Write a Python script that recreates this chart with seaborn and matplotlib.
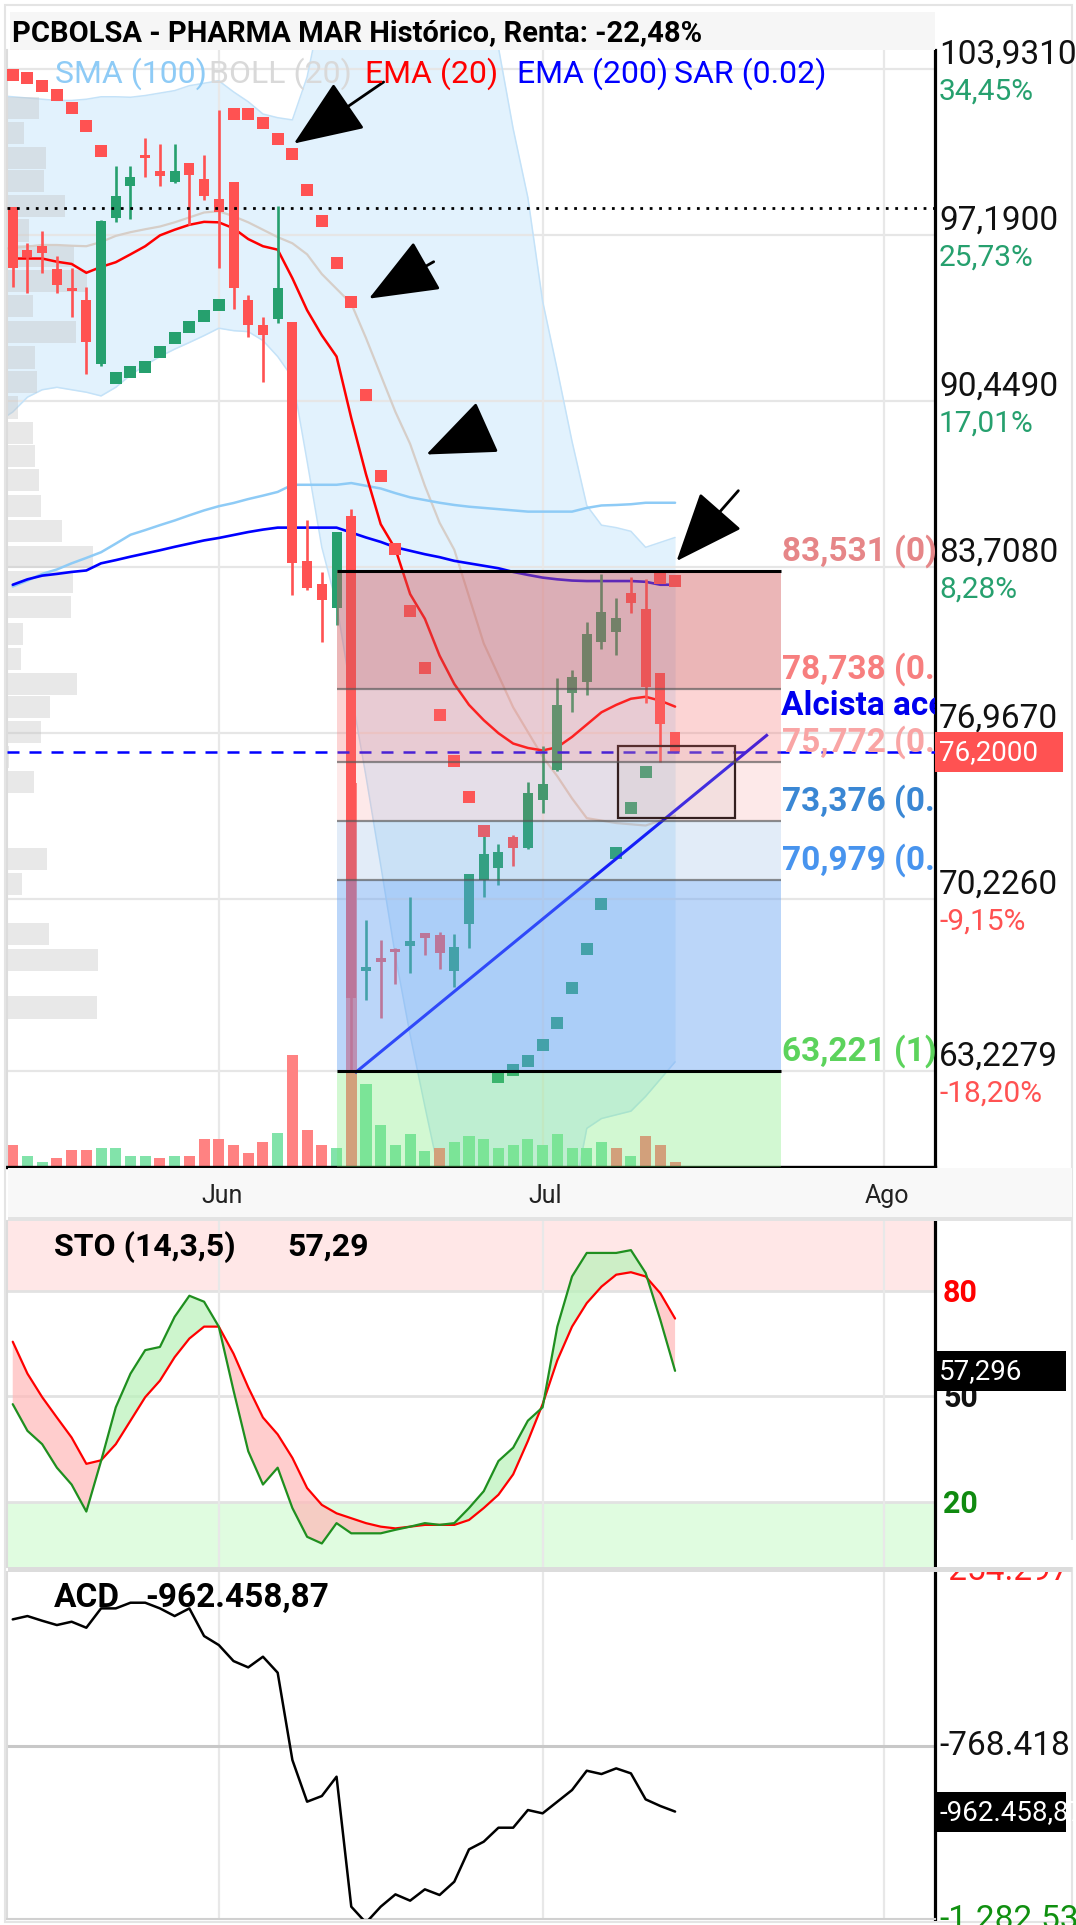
import numpy as np
import pandas as pd
import matplotlib
matplotlib.use("Agg")
import matplotlib.pyplot as plt
import seaborn as sns
from matplotlib.patches import Rectangle
from matplotlib.transforms import IdentityTransform

# ---------------------------------------------------------------- data
opens = [98.32, 96.59, 96.73, 95.79, 95.02, 94.56, 91.96, 97.89, 99.16, 100.38,
         99.77, 99.34, 100.13, 99.45, 98.64, 99.34, 94.56, 93.55, 93.77, 93.66,
         83.95, 83.01, 82.04, 85.76, 67.30, 67.82, 68.16, 68.32, 68.83, 68.77,
         67.30, 69.19, 70.97, 71.48, 72.74, 72.27, 74.25, 75.46, 78.59, 79.03,
         80.64, 81.08, 82.66, 81.98, 79.38, 76.98]
highs = [98.32, 96.88, 97.34, 96.33, 95.86, 95.07, 97.79, 99.99, 99.97, 101.14,
         100.90, 100.90, 100.13, 100.42, 102.26, 99.34, 94.75, 93.84, 98.35, 93.66,
         85.62, 83.51, 85.13, 86.05, 69.35, 68.56, 68.24, 70.28, 68.83, 68.87,
         68.80, 71.24, 73.22, 72.46, 72.81, 74.95, 76.41, 79.19, 79.53, 81.46,
         83.40, 82.46, 83.29, 83.20, 79.38, 77.01]
lows = [95.07, 94.85, 95.65, 94.85, 93.84, 91.55, 91.88, 97.72, 97.82, 99.53,
        99.16, 99.31, 97.60, 98.61, 95.86, 94.17, 93.04, 91.23, 93.62, 82.55,
        82.77, 80.67, 81.35, 63.22, 66.11, 65.40, 66.77, 67.22, 67.93, 67.37,
        66.66, 68.24, 70.30, 70.77, 71.56, 72.24, 73.72, 75.43, 77.83, 78.51,
        80.36, 80.14, 81.82, 78.19, 75.78, 76.14]
closes = [95.86, 96.30, 96.44, 95.14, 94.92, 92.82, 97.74, 98.79, 99.55, 100.32,
          99.60, 99.77, 99.63, 98.79, 98.11, 95.05, 93.55, 93.11, 95.02, 83.85,
          82.84, 82.38, 85.13, 66.20, 67.45, 67.66, 68.08, 68.51, 68.64, 68.01,
          68.27, 71.24, 72.03, 72.14, 72.30, 74.53, 74.88, 78.08, 79.25, 80.96,
          81.87, 81.62, 82.22, 78.82, 77.32, 76.20]
volume = [220, 113, 54, 86, 170, 170, 195, 195, 113, 113,
          86, 113, 113, 280, 280, 220, 136, 250, 340, 1120,
          366, 220, 195, 3840, 830, 416, 220, 330, 163, 195,
          250, 307, 280, 195, 220, 280, 220, 330, 195, 195,
          250, 195, 113, 307, 220, 54]
sar = [103.68, 103.56, 103.22, 102.88, 102.33, 101.62, 100.61, 91.38, 91.62, 91.84,
       92.42, 93.00, 93.43, 93.88, 94.33, 102.12, 102.12, 101.75, 101.10, 100.49,
       99.02, 97.74, 96.05, 94.46, 90.70, 87.40, 84.43, 81.90, 79.61, 77.67,
       75.82, 74.35, 72.98, 63.00, 63.27, 63.62, 64.30, 65.19, 66.59, 68.20,
       70.01, 72.08, 73.90, 75.38, 83.25, 83.14]
ema20 = [96.23, 96.23, 96.23, 96.10, 96.01, 95.65, 95.89, 96.08, 96.40, 96.73,
         97.17, 97.40, 97.60, 97.72, 97.70, 97.46, 97.02, 96.73, 96.59, 95.43,
         94.13, 93.11, 92.25, 89.75, 87.47, 85.44, 84.43, 82.60, 81.60, 80.10,
         78.95, 78.10, 77.48, 76.95, 76.53, 76.35, 76.25, 76.38, 76.80, 77.30,
         77.80, 78.10, 78.35, 78.43, 78.27, 78.03]
ema200 = [82.98, 83.20, 83.35, 83.42, 83.50, 83.56, 83.85, 83.98, 84.12, 84.25,
          84.38, 84.52, 84.65, 84.78, 84.88, 85.00, 85.12, 85.22, 85.30, 85.30,
          85.30, 85.30, 85.30, 85.10, 84.90, 84.72, 84.50, 84.36, 84.22, 84.10,
          83.95, 83.85, 83.75, 83.65, 83.50, 83.38, 83.27, 83.20, 83.15, 83.13,
          83.13, 83.13, 83.13, 83.10, 82.98, 82.98]
sma100 = [82.91, 83.15, 83.42, 83.60, 83.85, 84.07, 84.30, 84.65, 85.01, 85.20,
          85.40, 85.59, 85.80, 86.00, 86.17, 86.30, 86.46, 86.60, 86.75, 87.04,
          87.04, 87.04, 87.04, 87.11, 87.00, 86.89, 86.70, 86.53, 86.42, 86.31,
          86.22, 86.15, 86.10, 86.05, 86.00, 85.95, 85.95, 85.95, 85.95, 86.10,
          86.20, 86.22, 86.25, 86.31, 86.31, 86.31]
# Bollinger (20): first value belongs to the bar before the visible range
boll_up = [102.85, 102.80, 102.75, 102.70, 102.65, 102.65, 102.70, 102.80, 102.80, 102.78, 102.85,
           102.95, 103.05, 103.25, 103.35, 103.45, 103.00, 102.60, 102.10, 101.95, 101.86,
           103.60, 106.50, 110.0, 112.0, 113.0, 113.0, 112.5, 112.0, 111.5, 111.0,
           110.0, 109.0, 107.5, 104.8, 101.5, 98.70, 94.50, 91.70, 88.80, 86.20,
           85.40, 85.30, 85.15, 84.50, 84.70, 84.90]
boll_mid = [96.60, 96.66, 96.72, 96.78, 96.78, 96.75, 96.73, 96.90, 97.15, 97.30, 97.42,
            97.53, 97.70, 97.90, 98.10, 98.15, 97.95, 97.70, 97.40, 97.10, 96.85,
            96.40, 95.60, 95.00, 94.40, 93.00, 91.50, 90.00, 88.70, 87.00, 85.50,
            84.40, 82.50, 80.60, 79.30, 78.00, 77.00, 76.00, 75.20, 74.30, 73.50,
            73.40, 73.30, 73.25, 73.20, 73.40, 73.60]
boll_low = [89.60, 90.00, 90.60, 90.90, 91.00, 90.90, 90.80, 90.65, 91.00, 91.50, 91.90,
            92.25, 92.55, 92.82, 93.10, 93.40, 93.30, 93.26, 92.90, 92.25, 91.40,
            88.00, 84.50, 82.20, 78.60, 75.20, 71.60, 67.90, 64.70, 61.80, 59.00,
            57.50, 56.50, 56.00, 55.50, 55.50, 56.00, 56.50, 57.50, 57.80, 60.90,
            61.30, 61.45, 61.60, 62.20, 62.90, 63.60]
profile_price = [102.36, 101.33, 100.32, 99.37, 98.36, 97.37, 96.34, 95.32, 94.31, 93.24,
                 92.21, 91.20, 90.18, 89.16, 88.22, 87.22, 86.18, 85.16, 84.12, 83.09,
                 82.06, 80.99, 79.97, 78.94, 78.00, 77.01, 75.97, 74.96, 73.93, 72.87,
                 71.84, 70.83, 69.79, 68.78, 67.75, 66.76, 65.81]
profile_vol = [32, 17, 39, 37, 58, 22, 67, 80, 26, 69,
               28, 30, 11, 26, 28, 32, 34, 55, 86, 66,
               64, 16, 14, 70, 43, 34, 2, 27, 0, 0,
               40, 15, 0, 42, 91, 0, 90]
sto_k = [47.8, 40.2, 36.4, 29.7, 24.9, 17.2, 31.6, 46.9, 56.5, 63.2,
         64.1, 72.7, 78.7, 77.0, 69.9, 51.7, 34.4, 24.9, 29.7, 18.2,
         10.0, 8.1, 13.9, 11.0, 11.0, 11.0, 12.0, 12.9, 13.9, 13.4,
         13.9, 18.2, 23.0, 31.6, 35.4, 43.1, 46.9, 69.9, 84.2, 90.9,
         90.9, 90.9, 91.7, 85.2, 71.8, 57.3]
sto_d = [65.6, 56.5, 49.8, 44.0, 38.3, 30.8, 31.8, 36.4, 43.1, 49.8,
         54.5, 61.2, 66.5, 69.9, 69.9, 62.2, 52.6, 44.0, 39.2, 32.5,
         23.9, 19.1, 16.7, 15.3, 13.9, 12.9, 12.4, 12.9, 13.4, 13.4,
         13.4, 14.8, 18.2, 22.0, 27.8, 37.3, 47.8, 60.3, 69.9, 76.6,
         81.3, 84.7, 85.4, 84.2, 79.4, 72.2]
acd_k = [-396.2, -386.4, -400.2, -412.9, -403.1, -420.8, -363.8, -363.8, -347.1, -347.1,
         -363.8, -386.4, -363.8, -445.3, -471.8, -519.0, -537.6, -506.2, -553.3, -810.6,
         -933.4, -916.7, -859.7, -1242.7, -1290.0, -1242.7, -1206.4, -1225.0, -1191.6, -1208.3,
         -1169.1, -1073.8, -1051.2, -1010.0, -1010.0, -957.9, -967.7, -933.4, -899.0, -842.1,
         -851.9, -835.2, -849.9, -926.5, -946.1, -962.46]

fib_levels = [83.531, 78.738, 75.772, 73.376, 70.979, 63.221]
fib_ratios = ["0", "0.236", "0.382", "0.5", "0.618", "1"]
fib_span = (22.05, 52.2)
price_ticks = [103.931, 97.19, 90.449, 83.708, 76.967, 70.226, 63.2279]
price_tick_labels = ["103,9310", "97,1900", "90,4490", "83,7080", "76,9670", "70,2260", "63,2279"]
pct_labels = ["34,45%", "25,73%", "17,01%", "8,28%", "", "-9,15%", "-18,20%"]
month_pos = [14.0, 36.0, 59.2]
month_labels = ["Jun", "Jul", "Ago"]
last_price = 76.20
dotted_level = 98.30
trend_start = (23.25, 63.15)
trend_end = (51.3, 76.9)
trend_label = ("Alcista acelerada", 52.2, 78.05)
box_x = (41.1, 49.05)
box_y = (73.50, 76.42)
arrow_tails = [(25.2, 103.4), (28.6, 96.1), (32.06, 89.33), (49.3, 86.8)]
arrow_tips = [(19.1, 100.9), (24.2, 94.6), (28.1, 88.27), (45.1, 83.94)]
sto_last = 57.296
sto_header_value = "57,29"
acd_ticks = [-254297, -768418, -1282539]
acd_tick_labels = ["-254.297", "-768.418", "-1.282.539"]
acd_last_label = "-962.458,87"

# ---------------------------------------------------------------- style
sns.set_theme(style="white")
plt.rcParams["font.family"] = ["Roboto", "DejaVu Sans"]

W, H = 1076, 1925
fig = plt.figure(figsize=(W / 100, H / 100), dpi=100)
fig.patch.set_facecolor("white")
PX = IdentityTransform()
L, R = 7, 935


def axrect(top, bottom):
    return [L / W, 1 - bottom / H, (R - L) / W, (bottom - top) / H]


def rect_img(x0, y0, x1, y1, **kw):
    r = Rectangle((x0, H - y1), x1 - x0, y1 - y0, transform=PX, **kw)
    fig.add_artist(r)
    return r


def text_img(x, y_img, s, **kw):
    return fig.text(x, H - y_img, s, transform=PX, **kw)


def img_y(a, v):
    return H - a.transData.transform((0, v))[1]


def img_x(a, x):
    return a.transData.transform((x, 0))[0]


XMIN, XMAX = -0.39, 62.66
PMIN, PMAX = 59.33, 104.70
UPC, DNC = "#26a06e", "#ff5252"
idx = np.arange(len(closes))
band_x = np.arange(-1, len(closes))
df = pd.DataFrame(dict(i=idx, o=opens, h=highs, l=lows, c=closes, v=volume, sar=sar))

ax = fig.add_axes(axrect(50, 1167))
ax_sto = fig.add_axes(axrect(1221, 1567), sharex=ax)
ax_acd = fig.add_axes(axrect(1572, 1919), sharex=ax)
for a in (ax, ax_sto, ax_acd):
    a.set_facecolor("white")
    a.spines["top"].set_visible(False)
    a.spines["left"].set_color("#dcdcdc")
    a.spines["left"].set_linewidth(1.5)
    a.spines["right"].set_color("black")
    a.spines["right"].set_linewidth(2.3)
ax.set_xlim(XMIN, XMAX)
ax.set_ylim(PMIN, PMAX)
ax.spines["bottom"].set_color("black")
ax.spines["bottom"].set_linewidth(2.4)

# ---------------------------------------------------------------- price panel
ax.fill_between(band_x, boll_low, boll_up, color="#e2f2fd", lw=0, zorder=1)
ax.hlines(price_ticks, XMIN, XMAX, color="#e6e6e6", lw=1.6, zorder=1.5)
ax.vlines(month_pos, PMIN, PMAX, color="#e8e8e8", lw=1.6, zorder=1.5)
sns.lineplot(x=band_x, y=boll_up, ax=ax, color="#c4e2f8", lw=1.1, zorder=1.6)
sns.lineplot(x=band_x, y=boll_low, ax=ax, color="#c4e2f8", lw=1.1, zorder=1.6)

# volume profile
prof_w = np.array(profile_vol) / 14.72
ax.barh(profile_price, prof_w, left=XMIN, height=0.9, color="#c1c1c1", alpha=0.37, lw=0, zorder=2)

# volume bars
vol_up = np.r_[False, np.diff(closes) > 0]
vol_h = np.array(volume) / 10 / 24.62
ax.bar(df.i, vol_h, bottom=PMIN, width=0.75, color=np.where(vol_up, "#82e3aa", "#ff8282"),
       lw=0, zorder=2.2)

sns.lineplot(x=band_x, y=boll_mid, ax=ax, color="#d6cec8", lw=1.6, zorder=3)
sns.lineplot(x=idx, y=sma100, ax=ax, color="#8ecbf6", lw=1.8, zorder=3)
sns.lineplot(x=idx, y=ema200, ax=ax, color="#0000ff", lw=1.9, zorder=3.1)
sns.lineplot(x=idx, y=ema20, ax=ax, color="#ff0000", lw=1.8, zorder=3.2)

# candles
up = df.c >= df.o
ccol = np.where(up, UPC, DNC)
ax.vlines(df.i, df.l, df.h, colors=ccol, lw=1.9, zorder=4)
body = np.maximum((df.c - df.o).abs(), 0.1)
ax.bar(df.i, body, bottom=np.minimum(df.o, df.c), width=0.68, color=ccol, lw=0, zorder=4)

# parabolic SAR
sar_above = df.sar > df.c
sns.scatterplot(x=df.i[sar_above], y=df.sar[sar_above], ax=ax, color=DNC, marker="s",
                s=64, linewidth=0, zorder=4.1)
sns.scatterplot(x=df.i[~sar_above], y=df.sar[~sar_above], ax=ax, color=UPC, marker="s",
                s=64, linewidth=0, zorder=4.1)

ax.axhline(dotted_level, color="black", lw=2.0, ls=(0, (1.0, 2.4)), zorder=4.2)
ax.axhline(last_price, color="#0000ff", lw=1.8, ls=(0, (4.8, 4.0)), zorder=4.2)
ax.plot([trend_start[0], trend_end[0]], [trend_start[1], trend_end[1]], color="#0000ff",
        lw=2.2, zorder=4.5, solid_capstyle="butt")
ax.add_patch(Rectangle((box_x[0], box_y[0]), box_x[1] - box_x[0], box_y[1] - box_y[0],
                       fc=(0.75, 0.75, 0.75, 0.18), ec="#111111", lw=1.6, zorder=4.6))

# Fibonacci retracement
zone_cols = [("#d35d61", 0.45), ("#f87373", 0.30), ("#f87070", 0.15),
             ("#6ea0dc", 0.20), ("#6aa4f2", 0.45), ("#6ce86c", 0.30)]
bounds = fib_levels + [PMIN]
for k, (col, al) in enumerate(zone_cols):
    ax.fill_between(list(fib_span), bounds[k + 1], bounds[k], color=col, alpha=al, lw=0, zorder=5)
fib_txt_cols = ["#e68688", "#f77f7f", "#f9a5a5", "#3a87d4", "#4894ee", "#5cd35c"]
for k, lev in enumerate(fib_levels):
    if k in (0, len(fib_levels) - 1):
        ax.hlines(lev, *fib_span, color="black", lw=2.2, zorder=6)
    else:
        ax.hlines(lev, *fib_span, color="#555555", alpha=0.65, lw=1.6, zorder=6)
    lab = f"{lev:.3f}".replace(".", ",") + f" ({fib_ratios[k]})"
    ax.text(fib_span[1] + 0.06, lev + 0.12, lab, color=fib_txt_cols[k], fontsize=24,
            fontweight="bold", va="bottom", ha="left", clip_on=True, zorder=7)
ax.text(trend_label[1], trend_label[2], trend_label[0], color="#0000ee", fontsize=24,
        fontweight="bold", va="center", ha="left", clip_on=True, zorder=7)

for tail, tip in zip(arrow_tails, arrow_tips):
    ax.annotate("", xy=tip, xytext=tail, xycoords="data", textcoords="data",
                arrowprops=dict(arrowstyle="-|>,head_length=2.6,head_width=1.05",
                                mutation_scale=17, fc="black", ec="black", lw=2.0,
                                shrinkA=0, shrinkB=0),
                zorder=8, annotation_clip=False)

# ---------------------------------------------------------------- stochastic panel
SMIN, SMAX = 1.4, 100
ax_sto.set_ylim(SMIN, SMAX)
ax_sto.spines["bottom"].set_visible(False)
ax_sto.axhspan(80, SMAX, color="#ffe7e7", lw=0, zorder=0.5)
ax_sto.axhspan(SMIN, 20, color="#e0fce0", lw=0, zorder=0.5)
ax_sto.hlines([80, 50, 20], XMIN, XMAX, color="#e2e2e2", lw=2.0, zorder=1)
ax_sto.vlines(month_pos, SMIN, SMAX, color="#e8e8e8", lw=1.6, zorder=1)
k_arr, d_arr = np.array(sto_k), np.array(sto_d)
ax_sto.fill_between(idx, k_arr, d_arr, where=k_arr >= d_arr, interpolate=True,
                    color="#b8f2b8", alpha=0.7, lw=0, zorder=2)
ax_sto.fill_between(idx, k_arr, d_arr, where=k_arr < d_arr, interpolate=True,
                    color="#ffb8b8", alpha=0.7, lw=0, zorder=2)
sns.lineplot(x=idx, y=sto_d, ax=ax_sto, color="#ff0000", lw=1.6, zorder=3)
sns.lineplot(x=idx, y=sto_k, ax=ax_sto, color="#1f8f1f", lw=1.6, zorder=3.1)

# ---------------------------------------------------------------- ACD panel
AMIN, AMAX = -1279000, -256600
ax_acd.set_ylim(AMIN, AMAX)
ax_acd.spines["bottom"].set_color("#d0d0d0")
ax_acd.spines["bottom"].set_linewidth(1.5)
ax_acd.vlines(month_pos, AMIN, AMAX, color="#e8e8e8", lw=1.6, zorder=1)
ax_acd.axhline(acd_ticks[1], color="#c8c8c8", lw=2.2, zorder=1)
sns.lineplot(x=idx, y=np.array(acd_k) * 1000, ax=ax_acd, color="black", lw=1.8, zorder=3)

for a in (ax, ax_sto, ax_acd):
    a.set_xlim(XMIN, XMAX)
    a.set_xticks([])
    a.set_yticks([])
    a.set_xlabel("")
    a.set_ylabel("")

# ---------------------------------------------------------------- figure decorations
rect_img(5, 5, 1072, 1922, fill=False, ec="#e4e4e4", lw=1.5, zorder=0.1)
rect_img(10, 12, 935, 50, fc="#f6f6f6", ec="none", zorder=0.2)
rect_img(8, 1168, 1072, 1217, fc="#f8f8f8", ec="none", zorder=0.2)
rect_img(8, 1217, 1072, 1221, fc="#e3e3e3", ec="none", zorder=10)
rect_img(937, 1540, 1076, 1567, fc="white", ec="none", zorder=9)
rect_img(8, 1567, 1072, 1572, fc="#dcdcdc", ec="none", zorder=10)

text_img(12, 41, "PCBOLSA - PHARMA MAR Histórico, Renta: -22,48%", fontsize=21,
         fontweight="bold", color="black", va="baseline", zorder=5)
legend_items = [("SMA (100)", "#8ecbf6", 55), ("BOLL (20)", "#d9d9d9", 209),
                ("EMA (20)", "#ff0000", 365), ("EMA (200)", "#0000ff", 517),
                ("SAR (0.02)", "#0000ff", 674)]
for s, c, x in legend_items:
    text_img(x, 83, s, fontsize=23, color=c, va="baseline", zorder=5)

for v, lab, pct in zip(price_ticks, price_tick_labels, pct_labels):
    y = img_y(ax, v)
    text_img(939, y - 5, lab, fontsize=24, color="#111111", va="baseline", zorder=4)
    if pct:
        text_img(939, y + 31, pct, fontsize=21.5, va="baseline", zorder=4,
                 color="#ff5252" if pct.startswith("-") else "#26a06e")
y = img_y(ax, last_price)
rect_img(935, y - 20, 1063, y + 20, fc="#ff5252", ec="none", zorder=6)
text_img(939, y + 1, "76,2000", fontsize=20, color="white", va="center", zorder=7)

for m, lab in zip(month_pos, month_labels):
    text_img(img_x(ax, m) + 3, 1203, lab, fontsize=18, color="#222222", ha="center",
             va="baseline", zorder=5)

text_img(54, 1256, "STO (14,3,5)", fontsize=23, fontweight="bold", color="black",
         va="baseline", zorder=5)
text_img(287, 1256, sto_header_value, fontsize=23, fontweight="bold", color="black",
         va="baseline", zorder=5)
for v, c in ((80, "#ff0000"), (50, "#111111"), (20, "#108a10")):
    text_img(943, img_y(ax_sto, v) + 11, str(v), fontsize=22, fontweight="bold", color=c,
             va="baseline", zorder=4)
y = img_y(ax_sto, sto_last)
rect_img(935, y - 20, 1066, y + 20, fc="black", ec="none", zorder=6)
text_img(939, y + 1, f"{sto_last:.3f}".replace(".", ","), fontsize=20, color="white",
         va="center", zorder=7)

text_img(54, 1607, "ACD", fontsize=24, fontweight="bold", color="black", va="baseline", zorder=5)
text_img(145, 1607, acd_last_label, fontsize=24, fontweight="bold", color="black",
         va="baseline", zorder=5)
for v, lab, c in zip(acd_ticks, acd_tick_labels, ("#ff2020", "#111111", "#109010")):
    text_img(939, img_y(ax_acd, v), lab, fontsize=24, color=c, va="center", zorder=4)
y = img_y(ax_acd, acd_k[-1] * 1000)
rect_img(935, y - 20, 1066, y + 20, fc="black", ec="none", zorder=6)
text_img(939, y + 1, acd_last_label, fontsize=20, color="white", va="center", zorder=7)

fig.savefig("out.png", dpi=100)
